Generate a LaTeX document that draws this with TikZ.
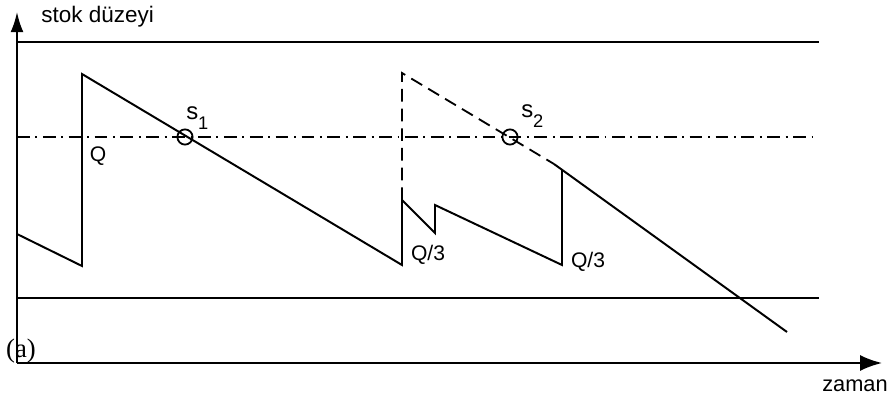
\documentclass[tikz,border=0pt]{standalone}
\usepackage{fontspec}
\setmainfont{Liberation Sans}
\newfontfamily\serifface{Liberation Serif}
\usetikzlibrary{arrows.meta,positioning}
\newcommand{\lowsub}[1]{\raisebox{-0.45em}{\fontsize{13}{15}\selectfont #1}}

\begin{document}
\begin{tikzpicture}[
	x=0.025cm, y=-0.025cm,
	every node/.style={font=\fontsize{15}{18}\selectfont, inner sep=0pt},
	axis/.style={line width=1.4pt},
	level/.style={line width=1.4pt},
	refline/.style={line width=1.3pt, dash pattern=on 9pt off 4pt on 1.4pt off 4pt},
	stock/.style={line width=1.4pt, line join=miter},
	alt/.style={line width=1.3pt, dash pattern=on 9pt off 5pt},
	ring/.style={draw, circle, line width=1.3pt, minimum size=0.38cm}
	]
	
	\useasboundingbox (0,0) rectangle (890,402);
	
	\coordinate (O) at (17,363);
	\coordinate (ytip) at (17,12);
	\coordinate (xtip) at (882,363);
	\draw[axis, -{Latex[length=5mm,width=3.2mm]}] (O) -- (ytip);
	\draw[axis, -{Latex[length=5.5mm,width=4mm]}] (O) -- (xtip);
	
	\draw[level] (17,42) -- (819,42);
	\draw[level] (17,298) -- (819,298);
	\draw[refline] (17,137) -- (819,137);
	
	\draw[stock] (17,234) -- (82,266) -- (82,74) -- (402,265) -- (402,200) -- (435,233)
		-- (435,205) -- (562,265) -- (562,170);
	\draw[stock] (554,164) -- (787,332);
	\draw[alt] (402,200) -- (402,73) -- (554,164);
	
	\node[ring] (s1) at (185,137) {};
	\node[ring] (s2) at (510,137) {};
	
	\node[anchor=base west, font=\fontsize{17}{20}\selectfont] (s1lab) at (186,119) {s\lowsub{1}};
	\node[anchor=base west, font=\fontsize{17}{20}\selectfont] (s2lab) at (521,117) {s\lowsub{2}};
	
	\node (q) at (98,156) {Q};
	\node (q3a) at (428,255) {Q/3};
	\node (q3b) at (588,262) {Q/3};
	
	\node[font=\fontsize{16}{19}\selectfont, anchor=west] (ylab) at (41,17) {stok düzeyi};
	\node[font=\fontsize{15.5}{18}\selectfont] (xlab) at (855,386) {zaman};
	\node[font=\serifface\fontsize{19}{22}\selectfont] (part) at (21,351) {(a)};
	
\end{tikzpicture}
\end{document}
